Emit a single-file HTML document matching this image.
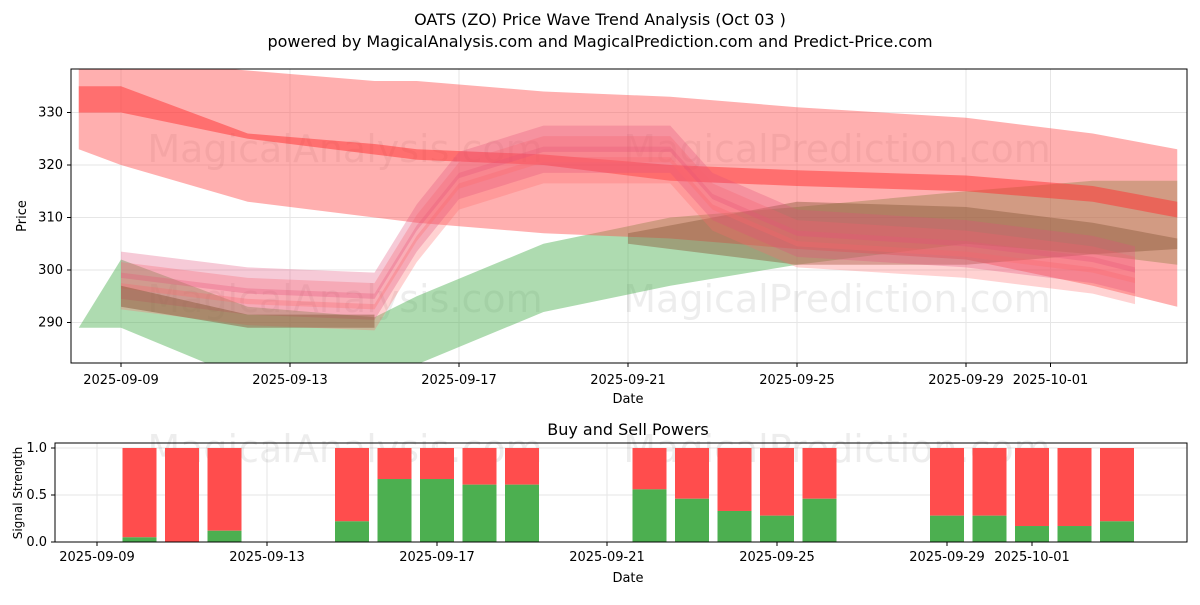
<!DOCTYPE html>
<html><head><meta charset="utf-8"><style>
body{margin:0;background:#fff;font-family:"Liberation Sans","DejaVu Sans",sans-serif;}
svg text{font-family:"DejaVu Sans","Liberation Sans",sans-serif;}
</style></head><body>
<svg id="c" width="1200" height="600" viewBox="0 0 1200 600">
<rect width="1200" height="600" fill="#fff"/>
<defs><clipPath id="cp"><rect x="71" y="69" width="1116" height="294"/></clipPath><clipPath id="cp2"><rect x="55" y="443" width="1132" height="99"/></clipPath></defs>
<text x="600" y="25" text-anchor="middle" font-size="16">OATS (ZO) Price Wave Trend Analysis (Oct 03 )</text>
<text x="600" y="47" text-anchor="middle" font-size="16">powered by MagicalAnalysis.com and MagicalPrediction.com and Predict-Price.com</text>
<g id="topg"></g><g id="botg"></g>
</svg>
<script>
// ---- data ----
const bandDays = [-1, 0, 3, 6, 7, 10, 13, 16, 20, 23, 25];
const redWideUpper = [345, 340, 338, 336, 336, 334, 333, 331, 329, 326, 323];
const redWideLower = [323, 320, 313, 310, 309, 307, 306, 304, 302, 297, 293];
const redThinUpper = [335, 335, 326, 324, 323, 322, 320, 319, 318, 316, 313];
const redThinLower = [330, 330, 325, 322, 321, 320, 317, 316, 315, 313, 310];
const greenUpper = [289, 302, 293, 291, 295, 305, 310, 312, 315, 317, 317];
const greenLower = [289, 289, 279, 277, 282, 292, 297, 301, 305, 303, 301];
const waveDays = [0, 3, 6, 7, 8, 10, 13, 14, 16, 20, 23, 24];
const waveCenter = [297, 294, 293, 306, 316, 321, 321, 312, 305, 303, 300, 298];
const waveOffsets = [-2, 0, 2, 4];
const brownDays = [12, 16, 20, 23, 25];
const brownUpper = [307, 313, 312, 309, 306];
const brownLower = [305, 301, 301, 303, 304];
const brownLowDays = [0, 3, 6];
const brownLowUpper = [297, 291.5, 291.5];
const brownLowLower = [293, 289, 289];
const barDays = [1, 2, 3, 6, 7, 8, 9, 10, 13, 14, 15, 16, 17, 20, 21, 22, 23, 24];
const buyPower = [0.05, 0, 0.12, 0.22, 0.67, 0.67, 0.61, 0.61, 0.56, 0.46, 0.33, 0.28, 0.46, 0.28, 0.28, 0.17, 0.17, 0.22];
const dateLabels = ["2025-09-09","2025-09-13","2025-09-17","2025-09-21","2025-09-25","2025-09-29","2025-10-01"];
const dateTickDays = [0, 4, 8, 12, 16, 20, 22];
const priceTicks = [290, 300, 310, 320, 330];
const sigTicks = [0, 0.5, 1.0];

const NS = "http://www.w3.org/2000/svg";
function mk(p, tag, a, txt){const e=document.createElementNS(NS,tag);for(const k in a)e.setAttribute(k,a[k]);if(txt!==undefined)e.textContent=txt;p.appendChild(e);return e;}
const topG = document.getElementById('topg'), botG = document.getElementById('botg');
const TX0=71,TX1=1187,TY0=69,TY1=363;
const tx = d => 121 + d*42.25;
const ty = v => 270 - (v-300)*5.25;
const gridT = mk(topG,'g',{});
priceTicks.forEach(v=>{const l=mk(gridT,'line',{x1:TX0,x2:TX1,y1:ty(v),y2:ty(v),stroke:'#e6e6e6'});


const t=mk(topG,'text',{x:TX0-8,y:ty(v)+4,'text-anchor':'end','font-size':13},v);


mk(topG,'line',{x1:TX0-4,x2:TX0,y1:ty(v),y2:ty(v),stroke:'#000'});});
dateTickDays.forEach((d,i)=>{mk(gridT,'line',{x1:tx(d),x2:tx(d),y1:TY0,y2:TY1,stroke:'#e6e6e6'});
mk(topG,'line',{x1:tx(d),x2:tx(d),y1:TY1,y2:TY1+4,stroke:'#000'});
const t=mk(topG,'text',{x:tx(d),y:TY1+21,'text-anchor':'middle','font-size':13},dateLabels[i]);

});
const wm1=mk(topG,'g',{'font-size':38,fill:'#000','fill-opacity':0.07,'text-anchor':'middle'});
mk(wm1,'text',{x:345,y:162},'MagicalAnalysis.com');mk(wm1,'text',{x:837,y:162},'MagicalPrediction.com');
mk(wm1,'text',{x:345,y:312},'MagicalAnalysis.com');mk(wm1,'text',{x:837,y:312},'MagicalPrediction.com');
const plot = mk(topG,'g',{'clip-path':'url(#cp)'});
function band(days,up,lo,fill,op,name){
 let pts=days.map((d,i)=>tx(d)+','+ty(up[i]));
 pts=pts.concat(days.map((d,i)=>tx(d)+','+ty(lo[i])).reverse());
 const p=mk(plot,'polygon',{points:pts.join(' '),fill:fill,'fill-opacity':op});
 
 }
band(bandDays,greenUpper,greenLower,'#4caf50',0.45,'green-trend-band');
band(bandDays,redWideUpper,redWideLower,'#ff4d4d',0.45,'red-wide-band');
band(bandDays,redThinUpper,redThinLower,'#ff3030',0.5,'red-thin-band');
band(brownDays,brownUpper,brownLower,'#8b5a3c',0.45,'brown-wave-band');
waveOffsets.forEach((o,k)=>{
 band(waveDays,waveCenter.map(v=>v+o+2.5),waveCenter.map(v=>v+o-2.5),k%2?'#e0507a':'#ff6b6b',0.3,'pink-wave-band');});
band(brownLowDays,brownLowUpper,brownLowLower,'#8b5a3c',0.5,'brown-low-band');
mk(topG,'rect',{x:TX0,y:TY0,width:TX1-TX0,height:TY1-TY0,fill:'none',stroke:'#000'});
mk(topG,'text',{x:628,y:403,'text-anchor':'middle','font-size':13},'Date');
mk(topG,'text',{x:26,y:216,'text-anchor':'middle','font-size':13,transform:'rotate(-90 26 216)'},'Price');
// bottom axes
const BX0=55,BX1=1187,BY0=443,BY1=542;
const bx = d => 97 + d*42.5;
const by = v => 542 - v*94;
mk(botG,'text',{x:628,y:435,'text-anchor':'middle','font-size':16},'Buy and Sell Powers');
sigTicks.forEach(v=>{mk(botG,'line',{x1:BX0,x2:BX1,y1:by(v),y2:by(v),stroke:'#e6e6e6'});
mk(botG,'line',{x1:BX0-4,x2:BX0,y1:by(v),y2:by(v),stroke:'#000'});
const t=mk(botG,'text',{x:BX0-8,y:by(v)+4,'text-anchor':'end','font-size':13},v.toFixed(1));

});
dateTickDays.forEach((d,i)=>{mk(botG,'line',{x1:bx(d),x2:bx(d),y1:BY0,y2:BY1,stroke:'#e6e6e6'});
mk(botG,'line',{x1:bx(d),x2:bx(d),y1:BY1,y2:BY1+4,stroke:'#000'});
mk(botG,'text',{x:bx(d),y:BY1+19,'text-anchor':'middle','font-size':13},dateLabels[i]);});
const wm2=mk(botG,'g',{'font-size':38,fill:'#000','fill-opacity':0.07,'text-anchor':'middle'});
mk(wm2,'text',{x:345,y:462},'MagicalAnalysis.com');mk(wm2,'text',{x:837,y:462},'MagicalPrediction.com');
const bars=mk(botG,'g',{'clip-path':'url(#cp2)'});
barDays.forEach((d,i)=>{const w=34,x=bx(d)-w/2;
 const r=mk(bars,'rect',{x:x,y:by(1),width:w,height:by(buyPower[i])-by(1),fill:'#ff4d4d'});
 
 
 const g=mk(bars,'rect',{x:x,y:by(buyPower[i]),width:w,height:by(0)-by(buyPower[i]),fill:'#4caf50'});
 
 });
mk(botG,'rect',{x:BX0,y:BY0,width:BX1-BX0,height:BY1-BY0,fill:'none',stroke:'#000'});
mk(botG,'text',{x:628,y:582,'text-anchor':'middle','font-size':13},'Date');
mk(botG,'text',{x:22,y:493,'text-anchor':'middle','font-size':12,transform:'rotate(-90 22 493)'},'Signal Strength');
</script>
</body></html>
